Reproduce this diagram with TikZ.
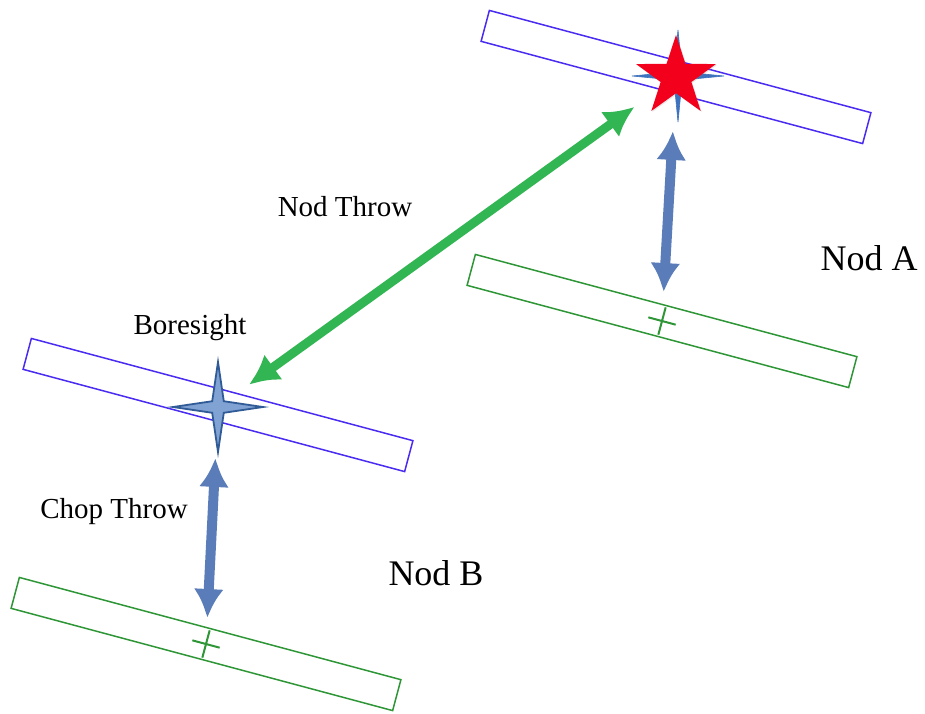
\documentclass[tikz,border=0pt]{standalone}
\usepackage{fontspec}
\setmainfont{Liberation Serif}
\usetikzlibrary{arrows.meta,positioning,shapes.geometric,shapes.misc,shadows}
\definecolor{nodBoreBlue}{HTML}{4A2CF0}
\definecolor{nodBaseGreen}{HTML}{2E9636}
\definecolor{nodThrowGreen}{HTML}{32B553}
\definecolor{nodChopBlue}{HTML}{5A7DB9}
\definecolor{nodStarRed}{HTML}{F2001C}
\definecolor{nodSparkBlue}{HTML}{3D72BD}
\tikzset{
    >=Latex,
    plate/.style={rectangle, line width=1.5pt, minimum width=395pt, minimum height=32pt, inner sep=0pt, rotate=-15},
    boreplate/.style={plate, draw=nodBoreBlue},
    baseplate/.style={plate, draw=nodBaseGreen},
    basemark/.style={cross out, draw=nodBaseGreen, line width=2pt, minimum size=18pt, inner sep=0pt, rotate=30},
    sparkle/.style={star, star points=4, inner sep=0pt, draw=nodSparkBlue},
    target/.style={star, star points=5, star point ratio=2.6, minimum size=84pt, inner sep=0pt, fill=nodStarRed, drop shadow={shadow xshift=1pt, shadow yshift=-1pt, opacity=0.2}},
    throwarrow/.style={{Latex[length=30pt,width=31pt]}-{Latex[length=30pt,width=31pt]}, line width=9pt, draw=nodThrowGreen},
    choparrow/.style={{Latex[length=29pt,width=30pt]}-{Latex[length=29pt,width=30pt]}, line width=10pt, draw=nodChopBlue},
    lbl/.style={font=\fontsize{29}{34}\selectfont, inner sep=0pt},
    biglbl/.style={font=\fontsize{36}{42}\selectfont, inner sep=0pt}
}
\begin{document}
\begin{tikzpicture}[x=1pt, y=-1pt]
\useasboundingbox (0,0) rectangle (925,713);
\node[boreplate] (plateA) at (676,77) {};
\node[baseplate] (baseA) at (662,321) {};
\node[boreplate] (plateB) at (218,405) {};
\node[baseplate] (baseB) at (206,644) {};
\node[basemark] (crossA) at (baseA) {};
\node[basemark] (crossB) at (baseB) {};
\node[sparkle, star point ratio=8, minimum size=92pt, fill=nodSparkBlue, line width=0.6pt] (sparkA) at (678,76) {};
\node[target] (starA) at (plateA) {};
\node[sparkle, star point ratio=5.5, minimum size=90pt, fill=nodSparkBlue!65, draw=nodSparkBlue!80!black, line width=1.8pt] (bore) at (218,407) {};
\draw[throwarrow, shorten <=51pt, shorten >=38pt] (starA.center) -- (bore.center);
\draw[choparrow, shorten <=54pt, shorten >=29pt] (starA.center) -- (crossA.center);
\draw[choparrow, shorten <=51pt, shorten >=26pt] (bore.center) -- (crossB.center);
\node[lbl] (throwlbl) at (345,207) {Nod Throw};
\node[lbl] (borelbl) at (190,328) {Boresight};
\node[lbl] (choplbl) at (114,512) {Chop Throw};
\node[biglbl] (nodA) at (869,258) {Nod A};
\node[biglbl] (nodB) at (436,573) {Nod B};
\end{tikzpicture}
\end{document}
